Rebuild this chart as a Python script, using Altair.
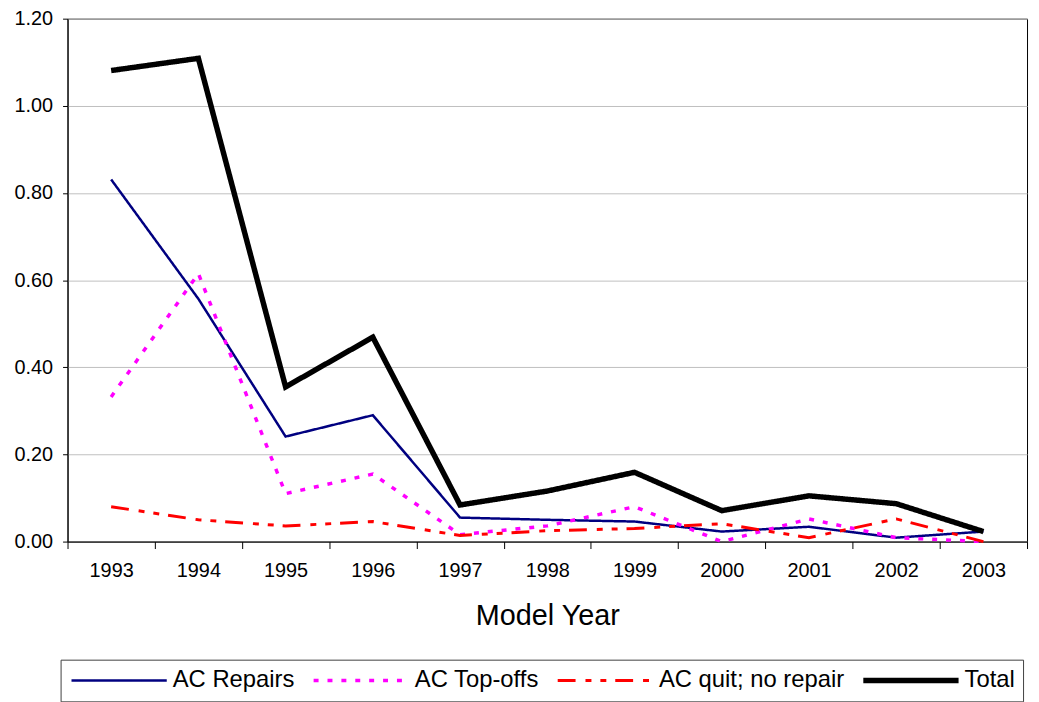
import altair as alt
import pandas as pd

years = ["1993", "1994", "1995", "1996", "1997", "1998", "1999", "2000", "2001", "2002", "2003"]
series_names = ["AC Repairs", "AC Top-offs", "AC quit; no repair", "Total"]
ac_repairs = [0.831, 0.557, 0.241, 0.290, 0.055, 0.050, 0.046, 0.023, 0.034, 0.009, 0.023]
ac_topoffs = [0.332, 0.615, 0.110, 0.155, 0.016, 0.036, 0.080, 0.000, 0.052, 0.009, 0.000]
ac_quit = [0.080, 0.050, 0.036, 0.046, 0.014, 0.025, 0.030, 0.041, 0.009, 0.052, 0.000]
total = [1.081, 1.109, 0.355, 0.469, 0.084, 0.116, 0.159, 0.071, 0.105, 0.087, 0.023]
y_ticks = [0.0, 0.2, 0.4, 0.6, 0.8, 1.0, 1.2]

colors = ["#000080", "#FF00FF", "#FF0000", "#000000"]
dashes = [[1, 0], [5, 9], [18, 10, 6, 9, 6, 9], [1, 0]]
widths = [2.5, 3.5, 3, 5.5]

rows = []
for name, vals in zip(series_names, [ac_repairs, ac_topoffs, ac_quit, total]):
    for i, (yr, v) in enumerate(zip(years, vals)):
        rows.append({"year": yr, "value": v, "series": name, "order": i})
df = pd.DataFrame(rows)

FONT = "Liberation Sans"


def make_legend():
    return alt.Legend(
        title=None,
        orient="none",
        legendX=-7,
        legendY=646,
        direction="horizontal",
        columns=4,
        symbolType="stroke",
        symbolSize=9216,
        clipHeight=26,
        labelFontSize=24,
        labelFont=FONT,
        labelColor="black",
        labelLimit=400,
        labelOffset=3,
        columnPadding=16,
        padding=8,
        strokeColor="#404040",
    )


chart = (
    alt.Chart(df)
    .mark_line(strokeCap="butt", strokeJoin="miter")
    .encode(
        x=alt.X(
            "year:O",
            sort=years,
            scale=alt.Scale(paddingInner=0, paddingOuter=0),
            axis=alt.Axis(
                title="Model Year",
                labelAngle=0,
                tickBand="extent",
                tickSize=7,
                labelPadding=12,
                titlePadding=22,
                labelFontSize=20,
                titleFontSize=29,
                titleFontWeight="normal",
                domainColor="black",
                tickColor="black",
                labelColor="black",
                titleColor="black",
                labelFont=FONT,
                titleFont=FONT,
                grid=False,
            ),
        ),
        y=alt.Y(
            "value:Q",
            scale=alt.Scale(domain=[0, 1.2], nice=False),
            axis=alt.Axis(
                title=None,
                values=y_ticks,
                format=".2f",
                tickSize=5,
                labelPadding=10,
                labelFontSize=20,
                labelFont=FONT,
                labelColor="black",
                domainColor="black",
                tickColor="black",
                gridColor="#c0c0c0",
                gridWidth=1,
            ),
        ),
        color=alt.Color(
            "series:N",
            scale=alt.Scale(domain=series_names, range=colors),
            legend=make_legend(),
        ),
        strokeDash=alt.StrokeDash(
            "series:N",
            scale=alt.Scale(domain=series_names, range=dashes),
            legend=make_legend(),
        ),
        strokeWidth=alt.StrokeWidth(
            "series:N",
            scale=alt.Scale(type="ordinal", domain=series_names, range=widths),
            legend=make_legend(),
        ),
        order="order:Q",
    )
    .properties(
        width=967,
        height=527,
        autosize=alt.AutoSizeParams(type="none"),
        padding={"left": 60, "top": 8, "right": 4, "bottom": 170},
        background="white",
    )
    .configure_view(stroke="black", strokeWidth=1)
)

chart.save("out.html", embed_options={"renderer": "svg", "actions": False})
